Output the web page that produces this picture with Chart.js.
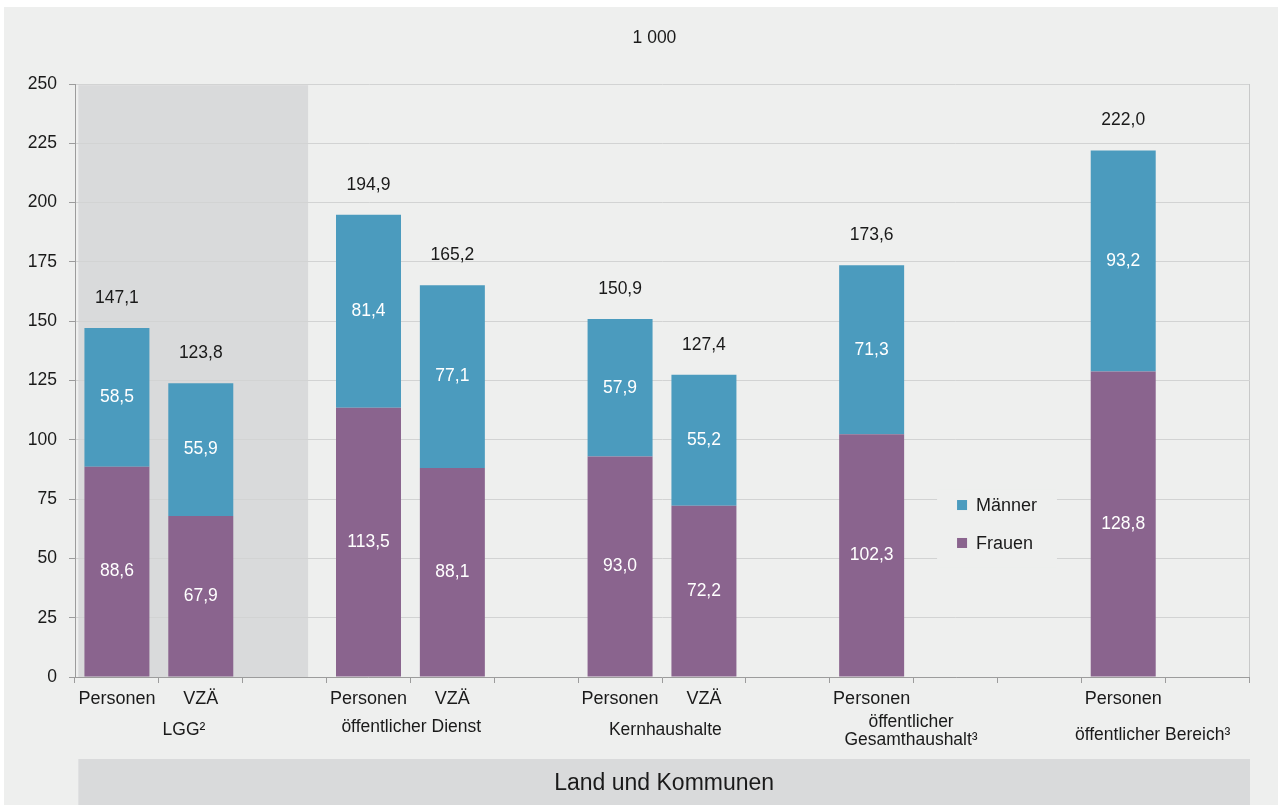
<!DOCTYPE html>
<html>
<head>
<meta charset="utf-8">
<script src="https://cdn.jsdelivr.net/npm/chart.js@4.4.1/dist/chart.umd.min.js"></script>
<style>
  html, body { margin: 0; padding: 0; background: #ffffff; }
  canvas { display: block; }
</style>
</head>
<body>
<canvas id="chart" width="1278" height="805"></canvas>
<script>
// Beschäftigte in 1 000, gestapelt nach Geschlecht
const categories = ['Personen', 'VZÄ', '', 'Personen', 'VZÄ', '', 'Personen', 'VZÄ', '', 'Personen', '', '', 'Personen', ''];
const frauen  = [88.6, 67.9, null, 113.5, 88.1, null, 93.0, 72.2, null, 102.3, null, null, 128.8, null];
const maenner = [58.5, 55.9, null, 81.4, 77.1, null, 57.9, 55.2, null, 71.3, null, null, 93.2, null];
const groupLabels = ['LGG²', 'öffentlicher Dienst', 'Kernhaushalte', ['öffentlicher', 'Gesamthaushalt³'], 'öffentlicher Bereich³'];
const unitLabel = '1 000';
const footerLabel = 'Land und Kommunen';
const yTicks = { min: 0, max: 250, step: 25 };

const FONT = '"Liberation Sans", Arial, Helvetica, sans-serif';
const TEXT = '#1a1a1a';
const BG = '#eeefee';
const SHADE = '#d9dadb';
const BLUE = '#4b9bbe';
const PURPLE = '#8a648e';

const fmt = v => v.toFixed(1).replace('.', ',');

const decorations = {
  id: 'decorations',
  beforeDraw(chart) {
    const { ctx, chartArea: a, scales: { x, y } } = chart;
    ctx.save();
    // panel background
    ctx.fillStyle = BG;
    ctx.fillRect(4, 7, chart.width - 4, chart.height - 7);
    // shaded LGG block
    ctx.fillStyle = SHADE;
    const x0 = x.getPixelForValue(-0.46), x1 = x.getPixelForValue(2.28);
    const yTop = y.getPixelForValue(249.5);
    ctx.fillRect(x0, yTop, x1 - x0, a.bottom - yTop);
    // footer band
    const bandTop = a.bottom + 82;
    ctx.fillRect(x0, bandTop, a.right + 1 - x0, chart.height - bandTop);
    ctx.fillStyle = TEXT;
    ctx.font = '23px ' + FONT;
    ctx.textAlign = 'center';
    ctx.textBaseline = 'middle';
    ctx.fillText(footerLabel, (x0 + a.right + 1) / 2, bandTop + 25);
    // unit label above the plot
    ctx.font = '17.5px ' + FONT;
    ctx.fillText(unitLabel, x.getPixelForValue(6.41), 38);
    ctx.restore();
  },
  afterDraw(chart) {
    const { ctx, chartArea: a, scales: { x } } = chart;
    ctx.save();
    // right frame line
    ctx.strokeStyle = '#c8c9c9';
    ctx.lineWidth = 1;
    ctx.beginPath();
    ctx.moveTo(a.right + 0.5, a.top);
    ctx.lineTo(a.right + 0.5, a.bottom);
    ctx.stroke();
    // group labels under the category ticks
    const groupPos = [
      { v: 0.80, dy: [53] },
      { v: 3.51, dy: [50] },
      { v: 6.54, dy: [53] },
      { v: 9.47, dy: [45, 63] },
      { v: 12.35, dy: [58] }
    ];
    ctx.fillStyle = TEXT;
    ctx.font = '17.5px ' + FONT;
    ctx.textAlign = 'center';
    ctx.textBaseline = 'middle';
    groupLabels.forEach((lbl, i) => {
      const lines = Array.isArray(lbl) ? lbl : [lbl];
      const px = x.getPixelForValue(groupPos[i].v);
      lines.forEach((t, j) => ctx.fillText(t, px, a.bottom + groupPos[i].dy[j]));
    });
    ctx.restore();
  },
  afterDatasetsDraw(chart) {
    const { ctx, scales: { x, y } } = chart;
    ctx.save();
    ctx.textAlign = 'center';
    ctx.textBaseline = 'middle';
    ctx.font = '17.5px ' + FONT;
    // values inside segments
    chart.data.datasets.forEach((ds, di) => {
      const meta = chart.getDatasetMeta(di);
      meta.data.forEach((bar, i) => {
        const v = ds.data[i];
        if (v == null) return;
        ctx.fillStyle = '#ffffff';
        ctx.fillText(fmt(v), bar.x, (bar.y + bar.base) / 2);
      });
    });
    // totals above the stacks
    const topMeta = chart.getDatasetMeta(chart.data.datasets.length - 1);
    topMeta.data.forEach((bar, i) => {
      const parts = chart.data.datasets.map(d => d.data[i]);
      if (parts.some(p => p == null)) return;
      const total = parts.reduce((s, p) => s + p, 0);
      ctx.fillStyle = TEXT;
      ctx.fillText(fmt(total), bar.x, bar.y - 30);
    });
    // legend box inside the plot
    const lx0 = x.getPixelForValue(9.78), lx1 = x.getPixelForValue(11.21);
    const ly0 = y.getPixelForValue(79), ly1 = y.getPixelForValue(46);
    ctx.fillStyle = BG;
    ctx.fillRect(lx0, ly0, lx1 - lx0, ly1 - ly0);
    const items = chart.data.datasets.slice().reverse();
    const rowVals = [72.5, 56.5];
    ctx.font = '18px ' + FONT;
    ctx.textAlign = 'left';
    items.forEach((ds, k) => {
      const cy = y.getPixelForValue(rowVals[k]);
      ctx.fillStyle = ds.backgroundColor;
      ctx.fillRect(lx0 + 20, cy - 5, 10, 10);
      ctx.fillStyle = TEXT;
      ctx.fillText(ds.label, lx0 + 39, cy + 1);
    });
    ctx.restore();
  }
};

new Chart(document.getElementById('chart'), {
  type: 'bar',
  data: {
    labels: categories,
    datasets: [
      { label: 'Frauen', data: frauen, backgroundColor: PURPLE, borderWidth: 0 },
      { label: 'Männer', data: maenner, backgroundColor: BLUE, borderWidth: 0 }
    ]
  },
  options: {
    responsive: false,
    animation: false,
    devicePixelRatio: 1,
    layout: { padding: { top: 84, right: 29, left: 0, bottom: 0 } },
    datasets: { bar: { categoryPercentage: 1, barPercentage: 0.775 } },
    plugins: {
      legend: { display: false },
      title: { display: false },
      tooltip: { enabled: false }
    },
    scales: {
      x: {
        stacked: true,
        offset: true,
        grid: { offset: true, drawOnChartArea: false, drawTicks: true, tickLength: 6, tickColor: '#9c9c9c' },
        border: { color: '#9c9c9c' },
        ticks: { color: TEXT, font: { family: FONT, size: 18 }, padding: 5, maxRotation: 0, autoSkip: false },
        afterFit(s) { s.height = 128; }
      },
      y: {
        stacked: true,
        min: yTicks.min,
        max: yTicks.max,
        ticks: { stepSize: yTicks.step, color: TEXT, font: { family: FONT, size: 17.5 }, padding: 12 },
        grid: { color: '#d2d3d3', tickColor: '#9c9c9c', tickLength: 6 },
        border: { color: '#9c9c9c' },
        afterFit(s) { s.width = 75; }
      }
    }
  },
  plugins: [decorations]
});
</script>
</body>
</html>
